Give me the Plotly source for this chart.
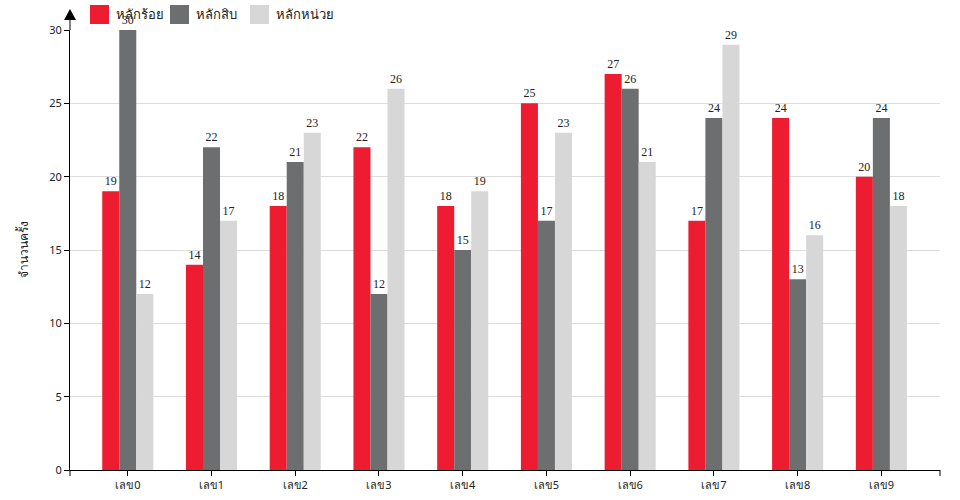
import plotly.graph_objects as go

categories = ["เลข0", "เลข1", "เลข2", "เลข3", "เลข4", "เลข5", "เลข6", "เลข7", "เลข8", "เลข9"]
hundreds = [19, 14, 18, 22, 18, 25, 27, 17, 24, 20]
tens = [30, 22, 21, 12, 15, 17, 26, 24, 13, 24]
units = [12, 17, 23, 26, 19, 23, 21, 29, 16, 18]
series_names = ["หลักร้อย", "หลักสิบ", "หลักหน่วย"]
colors = ["#ED1C30", "#6D6E70", "#D7D7D7"]

W, H = 960, 500
ML, MR, MT, MB = 70, 20, 30, 30
PW, PH = W - ML - MR, H - MT - MB

def px(x):
    return (x - ML) / PW

def py(y):
    return (H - MB - y) / PH

fig = go.Figure()
for name, vals, col in zip(series_names, [hundreds, tens, units], colors):
    fig.add_trace(go.Bar(
        x=categories, y=vals, name=name, marker=dict(color=col, line=dict(width=0)),
        text=[str(v) for v in vals], textposition="outside", cliponaxis=False,
        textfont=dict(family="Liberation Serif, Times New Roman, serif", size=12, color="#222"),
        showlegend=False,
    ))

shapes = []
annotations = []
# custom legend
leg_x = [90, 170, 250]
for i, (name, col) in enumerate(zip(series_names, colors)):
    x0 = leg_x[i]
    shapes.append(dict(type="rect", xref="paper", yref="paper",
                       x0=px(x0), x1=px(x0 + 19), y0=py(24), y1=py(5),
                       fillcolor=col, line=dict(width=0)))
    annotations.append(dict(xref="paper", yref="paper", x=px(x0 + 24), y=py(14),
                            text=name, showarrow=False, xanchor="left", yanchor="middle",
                            font=dict(family="Noto Sans, sans-serif", size=13, color="#222")))
# y axis extension and arrow
shapes.append(dict(type="line", xref="paper", yref="paper", x0=0, x1=0, y0=1, y1=py(18),
                   line=dict(color="black", width=1)))
shapes.append(dict(type="path", xref="paper", yref="paper",
                   path=f"M {px(64)} {py(20)} L {px(76)} {py(20)} L {px(70)} {py(9)} Z",
                   fillcolor="black", line=dict(width=0)))
# end ticks on x axis
for xe in [70, 940]:
    shapes.append(dict(type="line", xref="paper", yref="paper", x0=px(xe), x1=px(xe),
                       y0=0, y1=py(476), line=dict(color="black", width=1)))

fig.update_layout(
    width=W, height=H,
    margin=dict(l=ML, r=MR, t=MT, b=MB, autoexpand=False),
    plot_bgcolor="white", paper_bgcolor="white",
    barmode="group", bargap=0.39, bargroupgap=0,
    shapes=shapes, annotations=annotations,
    showlegend=False,
    xaxis=dict(type="category", range=[-0.69, 9.7], showline=True, linecolor="black",
               ticks="outside", ticklen=5, tickcolor="black", showgrid=False,
               tickfont=dict(family="Noto Sans, sans-serif", size=11, color="#222")),
    yaxis=dict(range=[0, 30], dtick=5, showline=True, linecolor="black",
               ticks="outside", ticklen=5, tickcolor="black",
               gridcolor="#DDDDDD", zeroline=False,
               tickfont=dict(family="Noto Sans, sans-serif", size=11, color="#222"),
               title=dict(text="จำนวนครั้ง", standoff=18,
                          font=dict(family="Noto Sans, sans-serif", size=12, color="#222"))),
)

fig.write_html("out.html", config={"displayModeBar": False},
               post_script="document.body.style.margin='0';document.body.style.overflow='hidden';")
